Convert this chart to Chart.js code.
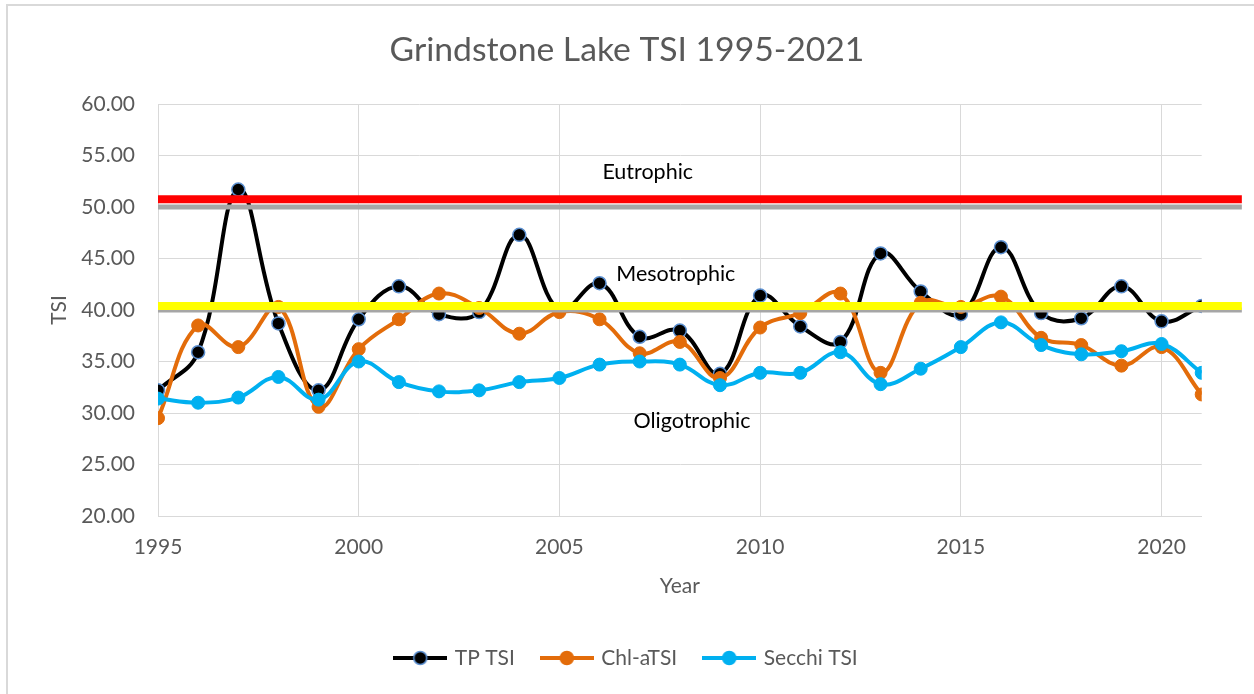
<!DOCTYPE html>
<html>
<head>
<meta charset="utf-8">
<script src="https://cdn.jsdelivr.net/npm/chart.js@4.4.0/dist/chart.umd.min.js"></script>
<style>
    html, body { margin: 0; padding: 0; background: #fff; }
    #wrap { position: relative; width: 1254px; height: 694px; }
</style>
</head>
<body>
<div id="wrap"><canvas id="tsi" width="1254" height="694"></canvas></div>
<script>
// values
const years = [1995, 1996, 1997, 1998, 1999, 2000, 2001, 2002, 2003, 2004, 2005, 2006, 2007, 2008,
    2009, 2010, 2011, 2012, 2013, 2014, 2015, 2016, 2017, 2018, 2019, 2020, 2021];
const tpTsi = [32.2, 35.9, 51.7, 38.7, 32.2, 39.1, 42.3, 39.6, 39.8, 47.3, 40.0, 42.6, 37.4, 38.0,
    33.8, 41.4, 38.4, 36.9, 45.5, 41.8, 39.6, 46.1, 39.7, 39.2, 42.3, 38.9, 40.4];
const chlTsi = [29.5, 38.5, 36.4, 40.3, 30.6, 36.2, 39.1, 41.6, 40.2, 37.7, 39.8, 39.1, 35.8, 36.9,
    33.4, 38.3, 39.7, 41.6, 33.9, 40.7, 40.3, 41.3, 37.3, 36.6, 34.6, 36.4, 31.8];
const secchiTsi = [31.4, 31.0, 31.5, 33.5, 31.3, 35.0, 33.0, 32.1, 32.2, 33.0, 33.4, 34.7, 35.0, 34.7,
    32.7, 33.9, 33.9, 35.9, 32.8, 34.3, 36.4, 38.8, 36.6, 35.7, 36.0, 36.7, 33.9];

const seriesNames = ['TP TSI', 'Chl-aTSI', 'Secchi TSI'];

// trophic boundaries: grey reference lines + coloured markers
const boundaryLevels = [50, 40];
const markerLevels = [50.75, 40.4];
const markerColors = ['#ff0000', '#ffff00'];
const lineSpan = [1995, 2022];

// zone labels (year, tsi)
const zoneNames = ['Eutrophic', 'Mesotrophic', 'Oligotrophic'];
const zoneYears = [2007.2, 2007.9, 2008.3];
const zoneValues = [53.4, 43.5, 29.2];

const xTicks = [1995, 2000, 2005, 2010, 2015, 2020];
const yTicks = [20, 25, 30, 35, 40, 45, 50, 55, 60];

const GREY_TXT = '#595959';
const FONT = 'Lato, "Open Sans", sans-serif';

function pts(vals) {
    return years.map((y, i) => ({x: y, y: vals[i]}));
}

function flatLine(v) {
    return [{x: lineSpan[0], y: v}, {x: lineSpan[1], y: v}];
}

// little line+marker swatch for legend
function swatch(color, border) {
    let c = document.createElement('canvas');
    c.width = 54;
    c.height = 18;
    let g = c.getContext('2d');
    g.strokeStyle = color;
    g.lineWidth = 4;
    g.beginPath();
    g.moveTo(0, 9);
    g.lineTo(54, 9);
    g.stroke();
    g.beginPath();
    g.arc(27, 9, 6.5, 0, Math.PI * 2);
    g.fillStyle = color;
    g.fill();
    if (border) {
        g.lineWidth = 1.5;
        g.strokeStyle = border;
        g.stroke();
    }
    return c;
}

const seriesStyle = [
    {color: '#000000', border: '#5b8fd0', data: tpTsi, order: 4},
    {color: '#e36c0a', border: '#e36c0a', data: chlTsi, order: 3},
    {color: '#00b0f0', border: '#00b0f0', data: secchiTsi, order: 2},
];

let datasets = [];
seriesStyle.forEach((s, i) => {
    datasets.push({
        label: seriesNames[i],
        data: pts(s.data),
        borderColor: s.color,
        backgroundColor: s.color,
        pointBackgroundColor: s.color,
        pointBorderColor: s.border,
        pointBorderWidth: i === 0 ? 1.5 : 1,
        pointRadius: 6.5,
        borderWidth: 4,
        tension: 0.4,
        order: s.order,
    });
});
boundaryLevels.forEach((v) => {
    datasets.push({
        label: 'ref',
        data: flatLine(v),
        borderColor: '#a6a6a6',
        borderWidth: 5,
        pointRadius: 0,
        clip: false,
        order: 1,
    });
});
markerLevels.forEach((v, i) => {
    datasets.push({
        label: 'limit',
        data: flatLine(v),
        borderColor: markerColors[i],
        borderWidth: 8,
        pointRadius: 0,
        clip: false,
        order: 0,
    });
});

const frame = {
    id: 'frame',
    beforeDraw(chart) {
        let ctx = chart.ctx;
        ctx.save();
        ctx.fillStyle = '#fff';
        ctx.fillRect(0, 0, chart.width, chart.height);
        ctx.fillStyle = '#d9d9d9';
        ctx.fillRect(6, 4, chart.width - 6, 2);
        ctx.fillRect(6, 4, 2, chart.height - 4);
        ctx.restore();
    }
};

const zoneText = {
    id: 'zoneText',
    afterDatasetsDraw(chart) {
        let ctx = chart.ctx;
        let xs = chart.scales.x, ys = chart.scales.y;
        ctx.save();
        ctx.font = '21.5px ' + FONT;
        ctx.fillStyle = '#000';
        ctx.textAlign = 'center';
        ctx.textBaseline = 'middle';
        zoneNames.forEach((n, i) => {
            ctx.fillText(n, xs.getPixelForValue(zoneYears[i]), ys.getPixelForValue(zoneValues[i]));
        });
        ctx.restore();
    }
};

new Chart(document.getElementById('tsi'), {
    type: 'line',
    data: {datasets: datasets},
    plugins: [frame, zoneText],
    options: {
        responsive: false,
        animation: false,
        layout: {padding: {left: 0, right: 0, top: 0, bottom: 15.5}},
        plugins: {
            tooltip: {enabled: false},
            title: {
                display: true,
                text: 'Grindstone Lake TSI 1995-2021',
                color: GREY_TXT,
                font: {family: FONT, size: 33.7, weight: 'normal'},
                padding: {top: 30, bottom: 33.6},
            },
            legend: {
                position: 'bottom',
                labels: {
                    color: GREY_TXT,
                    font: {family: FONT, size: 21},
                    usePointStyle: true,
                    pointStyleWidth: 48,
                    padding: 28,
                    generateLabels() {
                        return seriesStyle.map((s, i) => ({
                            text: seriesNames[i],
                            pointStyle: swatch(s.color, s.border),
                            fillStyle: s.color,
                            strokeStyle: s.color,
                            lineWidth: 0,
                            fontColor: GREY_TXT,
                            datasetIndex: i,
                        }));
                    }
                }
            }
        },
        scales: {
            x: {
                type: 'linear',
                min: 1995,
                max: 2021,
                afterBuildTicks(s) {
                    s.ticks = xTicks.map(v => ({value: v}));
                },
                afterFit(s) { s.height = 103.5; },
                ticks: {
                    color: GREY_TXT,
                    font: {family: FONT, size: 21},
                    padding: 19,
                    maxRotation: 0,
                    autoSkip: false,
                    callback: v => String(v),
                },
                grid: {color: '#d9d9d9', drawTicks: false},
                border: {color: '#d9d9d9'},
                title: {
                    display: true,
                    text: 'Year',
                    color: GREY_TXT,
                    font: {family: FONT, size: 21},
                    padding: {top: 0, bottom: 21},
                }
            },
            y: {
                min: 20,
                max: 60,
                afterBuildTicks(s) {
                    s.ticks = yTicks.map(v => ({value: v}));
                },
                afterFit(s) { s.width = 158; },
                ticks: {
                    color: GREY_TXT,
                    font: {family: FONT, size: 21},
                    padding: 23,
                    callback: v => Number(v).toFixed(2),
                },
                grid: {color: '#d9d9d9', drawTicks: false},
                border: {color: '#d9d9d9'},
                title: {
                    display: true,
                    text: 'TSI',
                    color: GREY_TXT,
                    font: {family: FONT, size: 21},
                    padding: {top: 47, bottom: 0},
                }
            },
            // empty right-hand strip so title and legend centre on the whole canvas
            yRight: {
                position: 'right',
                min: 20,
                max: 60,
                afterFit(s) { s.width = 52.3; },
                ticks: {display: false},
                grid: {drawOnChartArea: false, drawTicks: false},
                border: {display: false},
            }
        }
    }
});
</script>
</body>
</html>
